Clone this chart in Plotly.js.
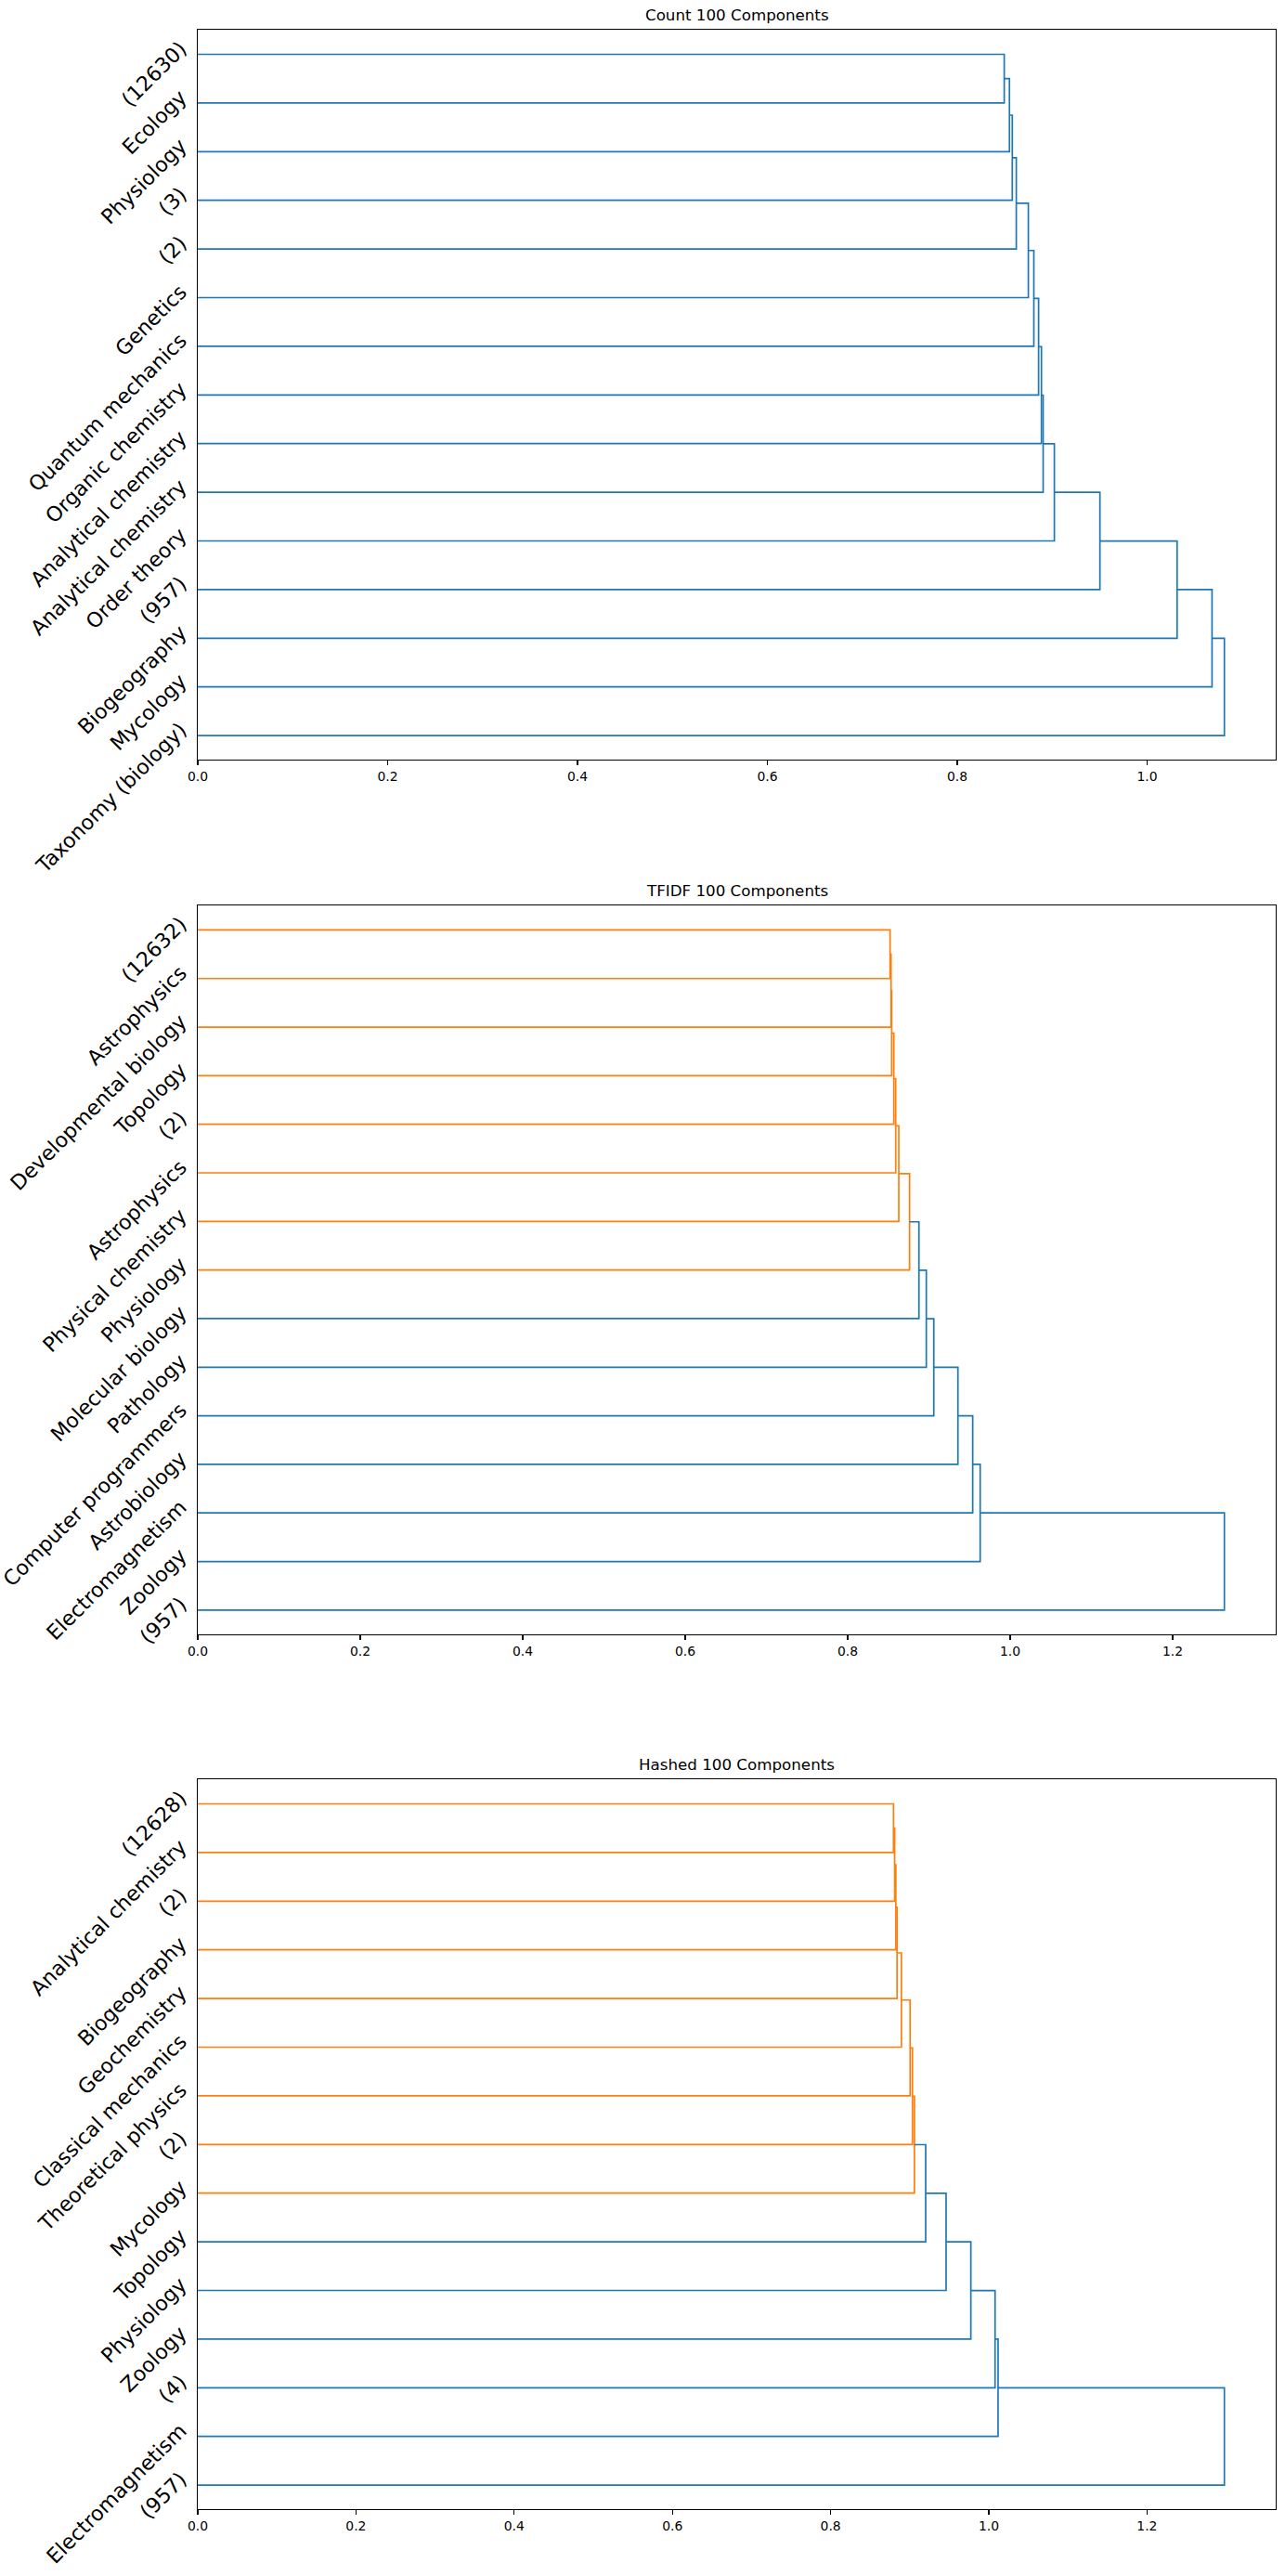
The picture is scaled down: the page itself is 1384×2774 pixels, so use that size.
<!DOCTYPE html>
<html>
<head>
<meta charset="utf-8">
<script src="https://cdn.plot.ly/plotly-3.0.1.min.js"></script>
<style>
html,body{margin:0;padding:0;background:#ffffff;}
#chart{width:1384px;height:2774px;}
</style>
</head>
<body>
<div id="chart"></div>
<script>
// ---------------- data ----------------
const countTitle = "Count 100 Components";
const countLabels = ["(12630)", "Ecology", "Physiology", "(3)", "(2)", "Genetics", "Quantum mechanics",
  "Organic chemistry", "Analytical chemistry", "Analytical chemistry", "Order theory", "(957)",
  "Biogeography", "Mycology", "Taxonomy (biology)"];
// merge distances, chain order: leaf 0+1, then each next leaf joins
const countHeights = [0.8495, 0.8550, 0.8580, 0.8622, 0.8749, 0.8807, 0.8857, 0.8887, 0.8905,
  0.9023, 0.9503, 1.0316, 1.0684, 1.0814];

const tfidfTitle = "TFIDF 100 Components";
const tfidfLabels = ["(12632)", "Astrophysics", "Developmental biology", "Topology", "(2)", "Astrophysics",
  "Physical chemistry", "Physiology", "Molecular biology", "Pathology", "Computer programmers",
  "Astrobiology", "Electromagnetism", "Zoology", "(957)"];
const tfidfHeights = [0.8522, 0.8534, 0.8541, 0.8568, 0.8591, 0.8629, 0.8762, 0.8877, 0.8968,
  0.9060, 0.9357, 0.9539, 0.9631, 1.2637];

const hashedTitle = "Hashed 100 Components";
const hashedLabels = ["(12628)", "Analytical chemistry", "(2)", "Biogeography", "Geochemistry",
  "Classical mechanics", "Theoretical physics", "(2)", "Mycology", "Topology", "Physiology", "Zoology",
  "(4)", "Electromagnetism", "(957)"];
const hashedHeights = [0.8795, 0.8810, 0.8825, 0.8840, 0.8895, 0.9005, 0.9035, 0.9060, 0.9202,
  0.9460, 0.9773, 1.0079, 1.0117, 1.2978];

// ---------------- drawing ----------------
const BLUE = '#1f77b4', ORANGE = '#ff7f0e';
const FONT = 'DejaVu Sans, Liberation Sans, sans-serif';
const W = 1384, H = 2774, PL = 213, PR = 1374.5;
const panels = [
  {title: countTitle, labels: countLabels, heights: countHeights, top: 32.3, bottom: 818.3},
  {title: tfidfTitle, labels: tfidfLabels, heights: tfidfHeights, top: 975.3, bottom: 1760},
  {title: hashedTitle, labels: hashedLabels, heights: hashedHeights, top: 1916.3, bottom: 2702.3}
];

const traces = [];
const layout = {
  width: W, height: H,
  margin: {l: PL, r: W - PR, t: 0, b: 0, pad: 0},
  paper_bgcolor: '#ffffff', plot_bgcolor: '#ffffff',
  showlegend: false, hovermode: false,
  font: {family: FONT, color: '#000000'},
  annotations: []
};

panels.forEach((p, idx) => {
  const sfx = idx === 0 ? '' : String(idx + 1);
  const xa = 'x' + sfx, ya = 'y' + sfx;
  const n = p.labels.length;
  const leafY = p.labels.map((_, i) => 5 + 10 * i);
  const maxH = Math.max(...p.heights);
  const thr = 0.7 * maxH;
  const segs = {};
  segs[ORANGE] = {x: [], y: []};
  segs[BLUE] = {x: [], y: []};
  let cy = leafY[0], ch = 0;
  p.heights.forEach((h, k) => {
    const ly = leafY[k + 1];
    const col = h < thr ? ORANGE : BLUE;
    const s = segs[col];
    s.x.push(ch, h, h, 0, null);
    s.y.push(cy, cy, ly, ly, null);
    cy = (cy + ly) / 2;
    ch = h;
  });
  [ORANGE, BLUE].forEach(col => {
    if (segs[col].x.length) {
      traces.push({
        type: 'scatter', mode: 'lines', x: segs[col].x, y: segs[col].y,
        xaxis: xa, yaxis: ya, line: {color: col, width: 1.7}, hoverinfo: 'skip'
      });
    }
  });
  const d0 = (H - p.bottom) / H, d1 = (H - p.top) / H;
  layout['xaxis' + sfx] = {
    domain: [0, 1], anchor: ya, range: [0, 1.05 * maxH], autorange: false,
    showline: true, mirror: true, linecolor: '#000000', linewidth: 1.1,
    ticks: 'outside', ticklen: 4.9, tickwidth: 1.1, tickcolor: '#000000',
    tick0: 0, dtick: 0.2, tickformat: '.1f',
    showgrid: false, zeroline: false,
    tickfont: {family: FONT, size: 13.9, color: '#000000'}
  };
  layout['yaxis' + sfx] = {
    domain: [d0, d1], anchor: xa, range: [10 * n, 0], autorange: false,
    showline: true, mirror: true, linecolor: '#000000', linewidth: 1.1,
    tickmode: 'array', tickvals: leafY, ticktext: p.labels, tickangle: -45,
    ticks: '', showgrid: false, zeroline: false,
    ticklabelstandoff: 13, ticklabelshift: 9,
    tickfont: {family: FONT, size: 22.2, color: '#000000'}
  };
  layout.annotations.push({
    text: p.title, xref: 'paper', yref: 'paper', x: 0.5, y: d1,
    xanchor: 'center', yanchor: 'bottom', yshift: 4, showarrow: false,
    font: {family: FONT, size: 16.7, color: '#000000'}
  });
});

Plotly.newPlot('chart', traces, layout, {staticPlot: true, displayModeBar: false});
</script>
</body>
</html>
